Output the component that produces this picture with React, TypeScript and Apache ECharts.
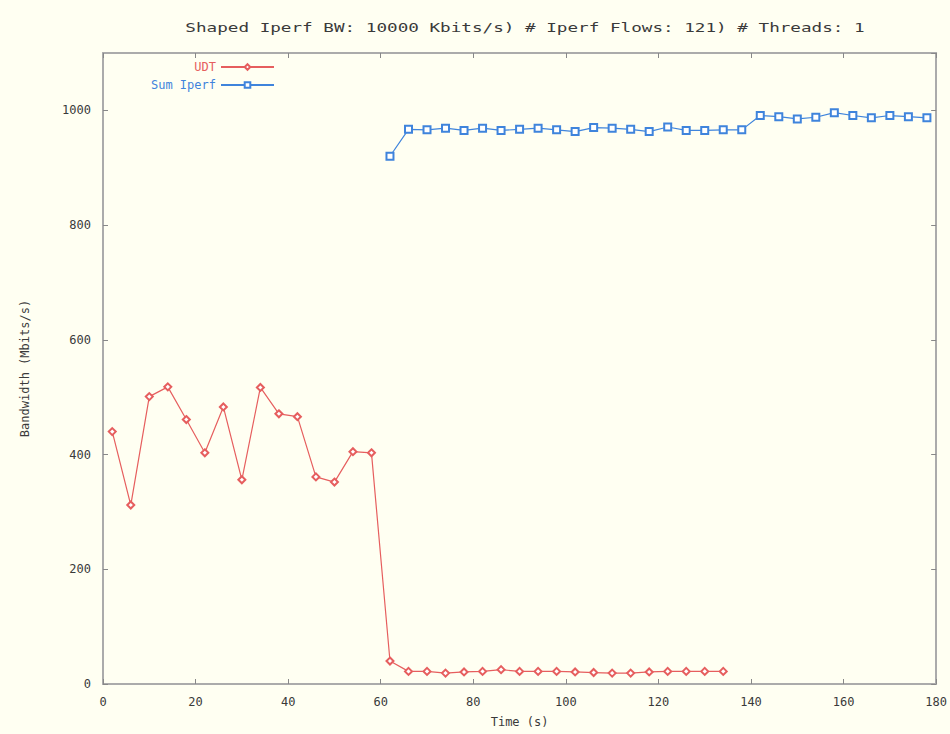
import React, { useEffect, useRef } from "react";
import * as echarts from "echarts";

const chartTitle = "Shaped Iperf BW: 10000 Kbits/s) # Iperf Flows: 121) # Threads: 1";
const xAxisName = "Time (s)";
const yAxisName = "Bandwidth (Mbits/s)";

const udtTime = [2, 6, 10, 14, 18, 22, 26, 30, 34, 38, 42, 46, 50, 54, 58, 62, 66, 70, 74, 78, 82, 86, 90, 94, 98, 102, 106, 110, 114, 118, 122, 126, 130, 134];
const udtBandwidth = [440, 312, 501, 518, 461, 403, 483, 356, 517, 471, 466, 361, 352, 405, 403, 40, 22, 22, 19, 21, 22, 25, 22, 22, 22, 21, 20, 19, 19, 21, 22, 22, 22, 22];

const iperfTime = [62, 66, 70, 74, 78, 82, 86, 90, 94, 98, 102, 106, 110, 114, 118, 122, 126, 130, 134, 138, 142, 146, 150, 154, 158, 162, 166, 170, 174, 178];
const iperfBandwidth = [920, 967, 966, 969, 965, 969, 965, 967, 969, 966, 963, 970, 969, 967, 963, 971, 965, 965, 966, 966, 991, 989, 985, 988, 996, 991, 987, 991, 989, 987];

const FONT = "DejaVu Sans Mono";
const RED = "#e65e5e";
const BLUE = "#3f84dc";
const AXIS = "#ababab";
const TEXT = "#3a3a3a";

export default function App() {
  const ref = useRef<HTMLDivElement>(null);
  useEffect(() => {
    if (!ref.current) return;
    const chart = echarts.init(ref.current, null, { renderer: "svg" });
    const axisCommon = {
      type: "value",
      axisLine: { show: true, onZero: false, lineStyle: { color: AXIS, width: 2 } },
      axisTick: { show: true, inside: true, length: 5, lineStyle: { color: "#888", width: 1 } },
      splitLine: { show: false },
    };
    chart.setOption({
      animation: false,
      backgroundColor: "#fffff2",
      graphic: [
        {
          type: "text",
          x: 525,
          y: 28,
          scaleX: 1.47,
          style: {
            text: chartTitle,
            fontFamily: FONT,
            fontSize: 12,
            fill: TEXT,
            align: "center",
            verticalAlign: "middle",
          },
        },
      ],
      grid: { left: 103, right: 5, top: 53, bottom: 50 },
      legend: [
        {
          data: [{ name: "UDT", textStyle: { color: RED } }],
          right: 675,
          top: 61,
          align: "right",
          orient: "vertical",
          padding: 0,
          itemWidth: 53,
          itemHeight: 7,
          textStyle: { fontFamily: FONT, fontSize: 12 },
        },
        {
          data: [{ name: "Sum Iperf", textStyle: { color: BLUE } }],
          right: 675,
          top: 79,
          align: "right",
          orient: "vertical",
          padding: 0,
          itemWidth: 53,
          itemHeight: 7,
          textStyle: { fontFamily: FONT, fontSize: 12 },
        },
      ],
      xAxis: [
        {
          ...axisCommon,
          position: "bottom",
          min: 0,
          max: 180,
          interval: 20,
          name: xAxisName,
          nameLocation: "middle",
          nameGap: 32,
          nameTextStyle: { fontFamily: FONT, fontSize: 12, color: TEXT },
          axisLabel: { fontFamily: FONT, fontSize: 12, color: TEXT, margin: 12 },
        },
        {
          ...axisCommon,
          position: "top",
          min: 0,
          max: 180,
          interval: 20,
          axisLabel: { show: false },
        },
      ],
      yAxis: [
        {
          ...axisCommon,
          position: "left",
          min: 0,
          max: 1100,
          interval: 200,
          name: yAxisName,
          nameLocation: "middle",
          nameGap: 72,
          nameTextStyle: { fontFamily: FONT, fontSize: 12, color: TEXT },
          axisLabel: {
            fontFamily: FONT,
            fontSize: 12,
            color: TEXT,
            margin: 12,
            showMaxLabel: false,
            formatter: (v: number) => String(v),
          },
        },
        {
          ...axisCommon,
          position: "right",
          min: 0,
          max: 1100,
          interval: 200,
          axisLabel: { show: false },
        },
      ],
      series: [
        {
          type: "line",
          name: "UDT",
          xAxisIndex: 0,
          yAxisIndex: 0,
          data: udtTime.map((t, i) => [t, udtBandwidth[i]]),
          symbol: "emptyDiamond",
          symbolSize: 7,
          lineStyle: { color: RED, width: 1.2 },
          itemStyle: { color: RED, borderWidth: 1.2 },
        },
        {
          type: "line",
          name: "Sum Iperf",
          xAxisIndex: 0,
          yAxisIndex: 0,
          data: iperfTime.map((t, i) => [t, iperfBandwidth[i]]),
          symbol: "emptyRect",
          symbolSize: 7,
          lineStyle: { color: BLUE, width: 1.2 },
          itemStyle: { color: BLUE, borderWidth: 1.2 },
        },
      ],
    });
    return () => chart.dispose();
  }, []);
  return (
    <div
      ref={ref}
      style={{ position: "fixed", left: 0, top: 0, width: 950, height: 734 }}
    />
  );
}
